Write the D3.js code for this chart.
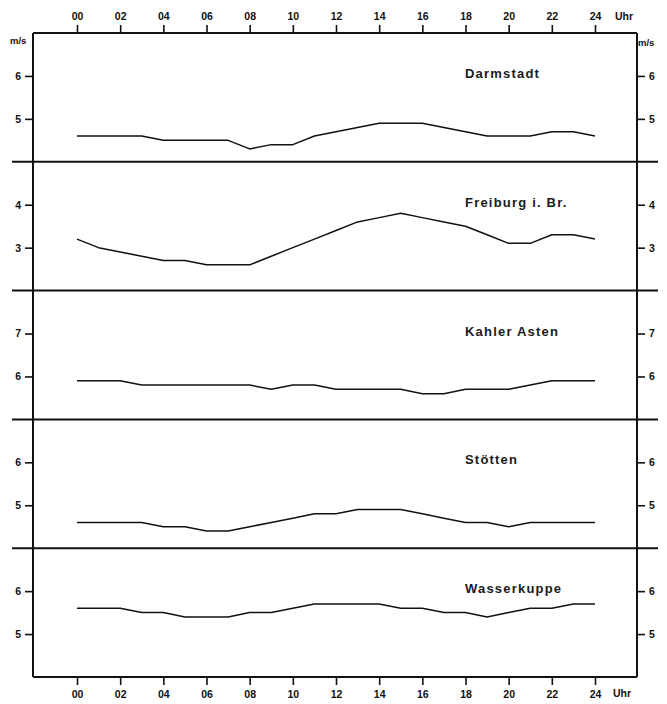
<!DOCTYPE html>
<html><head><meta charset="utf-8">
<script src="https://cdn.jsdelivr.net/npm/d3@7/dist/d3.min.js"></script>
<style>body{margin:0;background:#fff}</style>
</head><body>
<svg id="c" width="667" height="704"></svg>
<script>
const hours = d3.range(0, 25);
const hourTicks = [0,2,4,6,8,10,12,14,16,18,20,22,24];
const stations = ["Darmstadt", "Freiburg i. Br.", "Kahler Asten", "Stötten", "Wasserkuppe"];
const darmstadt   = [4.6,4.6,4.6,4.6,4.5,4.5,4.5,4.5,4.3,4.4,4.4,4.6,4.7,4.8,4.9,4.9,4.9,4.8,4.7,4.6,4.6,4.6,4.7,4.7,4.6];
const freiburg    = [3.2,3.0,2.9,2.8,2.7,2.7,2.6,2.6,2.6,2.8,3.0,3.2,3.4,3.6,3.7,3.8,3.7,3.6,3.5,3.3,3.1,3.1,3.3,3.3,3.2];
const kahlerAsten = [5.9,5.9,5.9,5.8,5.8,5.8,5.8,5.8,5.8,5.7,5.8,5.8,5.7,5.7,5.7,5.7,5.6,5.6,5.7,5.7,5.7,5.8,5.9,5.9,5.9];
const stoetten    = [4.6,4.6,4.6,4.6,4.5,4.5,4.4,4.4,4.5,4.6,4.7,4.8,4.8,4.9,4.9,4.9,4.8,4.7,4.6,4.6,4.5,4.6,4.6,4.6,4.6];
const wasserkuppe = [5.6,5.6,5.6,5.5,5.5,5.4,5.4,5.4,5.5,5.5,5.6,5.7,5.7,5.7,5.7,5.6,5.6,5.5,5.5,5.4,5.5,5.6,5.6,5.7,5.7];
const series = [darmstadt, freiburg, kahlerAsten, stoetten, wasserkuppe];
const yDomains = [[4,7],[2,5],[5,8],[4,7],[4,7]];
const yTickVals = [[5,6],[3,4],[6,7],[5,6],[5,6]];

const svg = d3.select("#c");
const L = 33, R = 637, T = 33, B = 677;
const x = d3.scaleLinear().domain([0,24]).range([77,595]);
const ph = (B - T) / 5;
const font = "'Liberation Sans', Arial, sans-serif";
const fmt = d => d3.format("02d")(d);

function styleAxis(g){
  g.select(".domain").remove();
  g.selectAll(".tick line").attr("stroke","#111").attr("stroke-width",1.6);
  g.selectAll(".tick text").attr("fill","#111").attr("font-family",font).attr("font-weight","bold").attr("font-size",10.5);
}

svg.append("g").attr("transform",`translate(0,${T})`)
  .call(d3.axisTop(x).tickValues(hourTicks).tickFormat(fmt).tickSize(8).tickPadding(5)).call(styleAxis);
svg.append("g").attr("transform",`translate(0,${B})`)
  .call(d3.axisBottom(x).tickValues(hourTicks).tickFormat(fmt).tickSize(8).tickPadding(6)).call(styleAxis);

svg.append("text").attr("x",615).attr("y",20).text("Uhr").attr("font-family",font).attr("font-weight","bold").attr("font-size",10.5).attr("fill","#111");
svg.append("text").attr("x",613).attr("y",697).text("Uhr").attr("font-family",font).attr("font-weight","bold").attr("font-size",10.5).attr("fill","#111");
svg.append("text").attr("x",10).attr("y",44).text("m/s").attr("font-family",font).attr("font-weight","bold").attr("font-size",9.5).attr("fill","#111");
svg.append("text").attr("x",638).attr("y",46).text("m/s").attr("font-family",font).attr("font-weight","bold").attr("font-size",9.5).attr("fill","#111");

series.forEach((vals, i) => {
  const top = T + i*ph, bot = top + ph;
  const y = d3.scaleLinear().domain(yDomains[i]).range([bot, top]);
  svg.append("g").attr("transform",`translate(${L},0)`)
    .call(d3.axisLeft(y).tickValues(yTickVals[i]).tickFormat(d3.format("d")).tickSize(8).tickPadding(4)).call(styleAxis);
  svg.append("g").attr("transform",`translate(${R},0)`)
    .call(d3.axisRight(y).tickValues(yTickVals[i]).tickFormat(d3.format("d")).tickSize(8).tickPadding(4)).call(styleAxis);
  svg.append("path").datum(vals)
    .attr("d", d3.line().x((d,j)=>x(hours[j])).y(d=>y(d)))
    .attr("fill","none").attr("stroke","#111").attr("stroke-width",1.5).attr("stroke-linejoin","round");
  svg.append("text").attr("x",465).attr("y",top + 45).text(stations[i])
    .attr("font-family",font).attr("font-weight","bold").attr("font-size",13).attr("letter-spacing",1.2).attr("fill","#1a1a1a");
  if (i < 4) {
    svg.append("line").attr("x1",12).attr("x2",658).attr("y1",bot).attr("y2",bot)
      .attr("stroke","#111").attr("stroke-width",2);
  }
});

svg.append("line").attr("x1",L).attr("x2",R).attr("y1",T).attr("y2",T).attr("stroke","#111").attr("stroke-width",2);
svg.append("line").attr("x1",L).attr("x2",R).attr("y1",B).attr("y2",B).attr("stroke","#111").attr("stroke-width",2);
svg.append("line").attr("x1",L).attr("x2",L).attr("y1",T).attr("y2",B).attr("stroke","#111").attr("stroke-width",2);
svg.append("line").attr("x1",R).attr("x2",R).attr("y1",T).attr("y2",B).attr("stroke","#111").attr("stroke-width",2);
</script>
</body></html>
